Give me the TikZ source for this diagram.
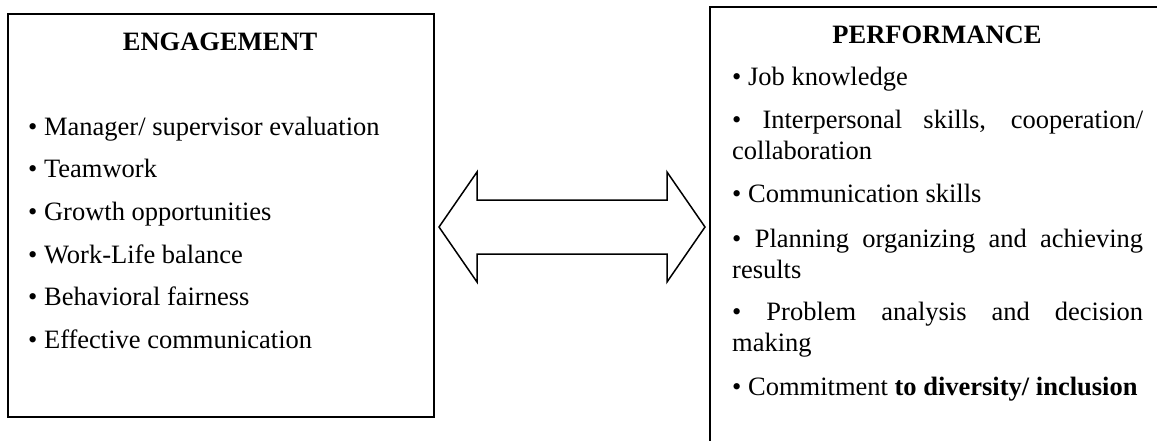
\documentclass[tikz,border=0pt]{standalone}
\usepackage{fontspec}
\setmainfont{Liberation Serif}
\tikzset{
  box/.style={draw=black, line width=1.8pt, inner sep=0pt, anchor=north west},
  title/.style={anchor=base, inner sep=0pt, font=\fontsize{26.5}{30}\selectfont\bfseries},
  item/.style={anchor=base west, inner sep=0pt, font=\fontsize{26.5}{30}\selectfont},
  para/.style={anchor=base west, inner sep=0pt, font=\fontsize{26.5}{31.5}\selectfont},
  dblarrow/.style={draw=black, line width=1.5pt, line join=miter, fill=white}
}
\begin{document}
\begin{tikzpicture}[x=1pt,y=-1pt]
\useasboundingbox (0,0) rectangle (1157,440);
\clip (0,0) rectangle (1157,440);
\fill[white] (0,0) rectangle (1157,440);
% left box
\node[box, minimum width=426pt, minimum height=403pt] (eng) at (7,13) {};
\node[title] (engt) at (220,50) {ENGAGEMENT};
\node[item] (e1) at (28,135) {• Manager/ supervisor evaluation};
\node[item] (e2) at (28,177) {• Teamwork};
\node[item] (e3) at (28,220) {• Growth opportunities};
\node[item] (e4) at (28,263) {• Work-Life balance};
\node[item] (e5) at (28,305) {• Behavioral fairness};
\node[item] (e6) at (28,348) {• Effective communication};
% right box (cut off at right and bottom)
\node[box, minimum width=470pt, minimum height=460pt] (perf) at (709,6) {};
\node[title] (perft) at (937,43) {PERFORMANCE};
\node[para] (p1) at (732,85) {• Job knowledge};
\node[para] (p2) at (732,128) {\parbox[t]{411pt}{• Interpersonal skills, cooperation/\linebreak collaboration}};
\node[para] (p3) at (732,202) {• Communication skills};
\node[para] (p4) at (732,247) {\parbox[t]{411pt}{• Planning organizing and achieving\linebreak results}};
\node[para] (p5) at (732,320) {\parbox[t]{411pt}{• Problem analysis and decision\linebreak making}};
\node[para] (p6) at (732,395) {• Commitment \textbf{to diversity/ inclusion}};
% double arrow
\draw[dblarrow] (439,227) -- (477,172) -- (477,200) -- (667,200) -- (667,172)
  -- (705,227) -- (667,282) -- (667,254) -- (477,254) -- (477,282) -- cycle;
\end{tikzpicture}
\end{document}
